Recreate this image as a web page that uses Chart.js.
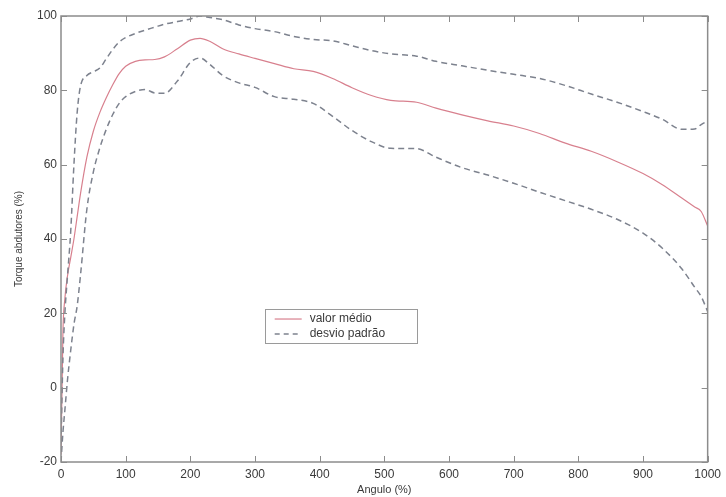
<!DOCTYPE html>
<html>
<head>
<meta charset="utf-8">
<script src="https://cdn.jsdelivr.net/npm/chart.js@4.4.1/dist/chart.umd.min.js"></script>
<style>
  html, body { margin: 0; padding: 0; background: #fff; }
  #wrap { width: 726px; height: 497px; position: relative; }
</style>
</head>
<body>
<div id="wrap"><canvas id="c" width="726" height="497"></canvas></div>
<script>
const angle = [0,3,6,10,15,20,25,30,40,50,60,70,80,90,100,115,130,145,160,180,200,215,230,250,275,300,330,360,390,420,450,480,510,550,580,620,660,700,740,780,820,860,900,930,960,980,990,1000];
const meanValues = [-18,15,24,30,35,40,46,52,62,69,74,78,81.5,84.5,86.5,87.8,88.2,88.3,89,91.2,93.5,94,93.2,91.2,89.8,88.6,87.2,85.8,85.1,83.2,80.7,78.6,77.3,76.8,75.2,73.4,71.8,70.4,68.4,65.8,63.6,60.8,57.6,54.6,51,48.6,47.4,43.5];
const upperValues = [-15,8,20,30,42,60,74,81,84,85,86,88.5,91,93,94.2,95.3,96.2,97,97.8,98.5,99.2,100,99.6,99,97.6,96.6,95.8,94.5,93.7,93.3,92,90.7,89.8,89.2,87.8,86.6,85.4,84.3,83.2,81.3,79,76.8,74.3,72.2,69.5,69.6,70.8,71.8];
const lowerValues = [-20,-12,-6,2,10,17,22,30,48,58,64.5,69.5,73.5,76.5,78.3,79.7,80.2,79.3,79.2,82.5,87.5,88.7,87,84,82,80.8,78.3,77.6,76.5,73,69.2,66.2,64.4,64.3,62,59.2,57.2,55,52.6,50.3,48,45.3,41.6,37.5,32,27,24.5,20.5];
const xTicks = [0,100,200,300,400,500,600,700,800,900,1000];
const yTicks = [-20,0,20,40,60,80,100];
const legendLabels = ['valor médio', 'desvio padrão'];
const xTitle = 'Angulo (%)';
const yTitle = 'Torque abdutores (%)';

const meanColor = 'rgb(216,128,142)';
const sdColor = 'rgb(125,130,142)';
const axisColor = '#8c8c8c';
const textColor = '#3a3a3a';
const fontFamily = '"Liberation Sans", Arial, sans-serif';

const toPts = ys => angle.map((x, i) => ({x: x, y: ys[i]}));

const framePlugin = {
  id: 'frame',
  afterDraw(chart) {
    const {ctx, chartArea: a, scales: {x, y}} = chart;
    ctx.save();
    ctx.strokeStyle = axisColor;
    ctx.lineWidth = 1.5;
    ctx.strokeRect(a.left, a.top, a.right - a.left, a.bottom - a.top);
    ctx.lineWidth = 1;
    const L = 6;
    xTicks.forEach(v => {
      const px = Math.round(x.getPixelForValue(v)) + 0.5;
      ctx.beginPath();
      ctx.moveTo(px, a.bottom); ctx.lineTo(px, a.bottom - L);
      ctx.moveTo(px, a.top); ctx.lineTo(px, a.top + L);
      ctx.stroke();
    });
    yTicks.forEach(v => {
      const py = Math.round(y.getPixelForValue(v)) + 0.5;
      ctx.beginPath();
      ctx.moveTo(a.left, py); ctx.lineTo(a.left + L, py);
      ctx.moveTo(a.right, py); ctx.lineTo(a.right - L, py);
      ctx.stroke();
    });
    // legend box
    const bx = a.left + 0.315 * (a.right - a.left);
    const by = a.top + 0.657 * (a.bottom - a.top);
    const bw = 152, bh = 34;
    ctx.fillStyle = '#fff';
    ctx.fillRect(bx, by, bw, bh);
    ctx.strokeStyle = '#9a9a9a';
    ctx.lineWidth = 1;
    ctx.strokeRect(Math.round(bx) + 0.5, Math.round(by) + 0.5, bw, bh);
    ctx.font = '12px ' + fontFamily;
    ctx.fillStyle = textColor;
    ctx.textBaseline = 'middle';
    const rows = [by + 10, by + 25];
    ctx.strokeStyle = meanColor; ctx.lineWidth = 1.2; ctx.setLineDash([]);
    ctx.beginPath(); ctx.moveTo(bx + 10, rows[0]); ctx.lineTo(bx + 37, rows[0]); ctx.stroke();
    ctx.strokeStyle = sdColor; ctx.lineWidth = 1.5; ctx.setLineDash([5, 4]);
    ctx.beginPath(); ctx.moveTo(bx + 10, rows[1]); ctx.lineTo(bx + 37, rows[1]); ctx.stroke();
    ctx.setLineDash([]);
    ctx.fillText(legendLabels[0], bx + 45, rows[0]);
    ctx.fillText(legendLabels[1], bx + 45, rows[1]);
    ctx.restore();
  }
};

new Chart(document.getElementById('c'), {
  type: 'line',
  data: {
    datasets: [
      { label: 'upper', data: toPts(upperValues), borderColor: sdColor, borderWidth: 1.5, borderDash: [6, 4], pointRadius: 0, cubicInterpolationMode: 'monotone', fill: false },
      { label: 'lower', data: toPts(lowerValues), borderColor: sdColor, borderWidth: 1.5, borderDash: [6, 4], pointRadius: 0, cubicInterpolationMode: 'monotone', fill: false },
      { label: 'mean', data: toPts(meanValues), borderColor: meanColor, borderWidth: 1.2, pointRadius: 0, cubicInterpolationMode: 'monotone', fill: false }
    ]
  },
  options: {
    responsive: false,
    animation: false,
    events: [],
    layout: { padding: { left: 0, right: 18, top: 16, bottom: 0 } },
    plugins: { legend: { display: false }, tooltip: { enabled: false } },
    scales: {
      x: {
        type: 'linear', min: 0, max: 1000,
        afterBuildTicks: s => { s.ticks = xTicks.map(v => ({value: v})); },
        afterFit: s => { s.height = 35; },
        grid: { display: false, drawTicks: false },
        border: { display: false },
        ticks: { padding: 5, color: textColor, font: { family: fontFamily, size: 12 }, maxRotation: 0, callback: v => String(v) },
        title: { display: true, text: xTitle, color: textColor, font: { family: fontFamily, size: 11 }, padding: { top: 0, bottom: 0 } }
      },
      y: {
        min: -20, max: 100,
        afterBuildTicks: s => { s.ticks = yTicks.map(v => ({value: v})); },
        afterFit: s => { s.width = 61; },
        grid: { display: false, drawTicks: false },
        border: { display: false },
        ticks: { padding: 4, color: textColor, font: { family: fontFamily, size: 12 }, callback: v => String(v) },
        title: { display: true, text: yTitle, color: textColor, font: { family: fontFamily, size: 10 }, padding: { top: 13, bottom: 0 } }
      }
    }
  },
  plugins: [framePlugin]
});
</script>
</body>
</html>
